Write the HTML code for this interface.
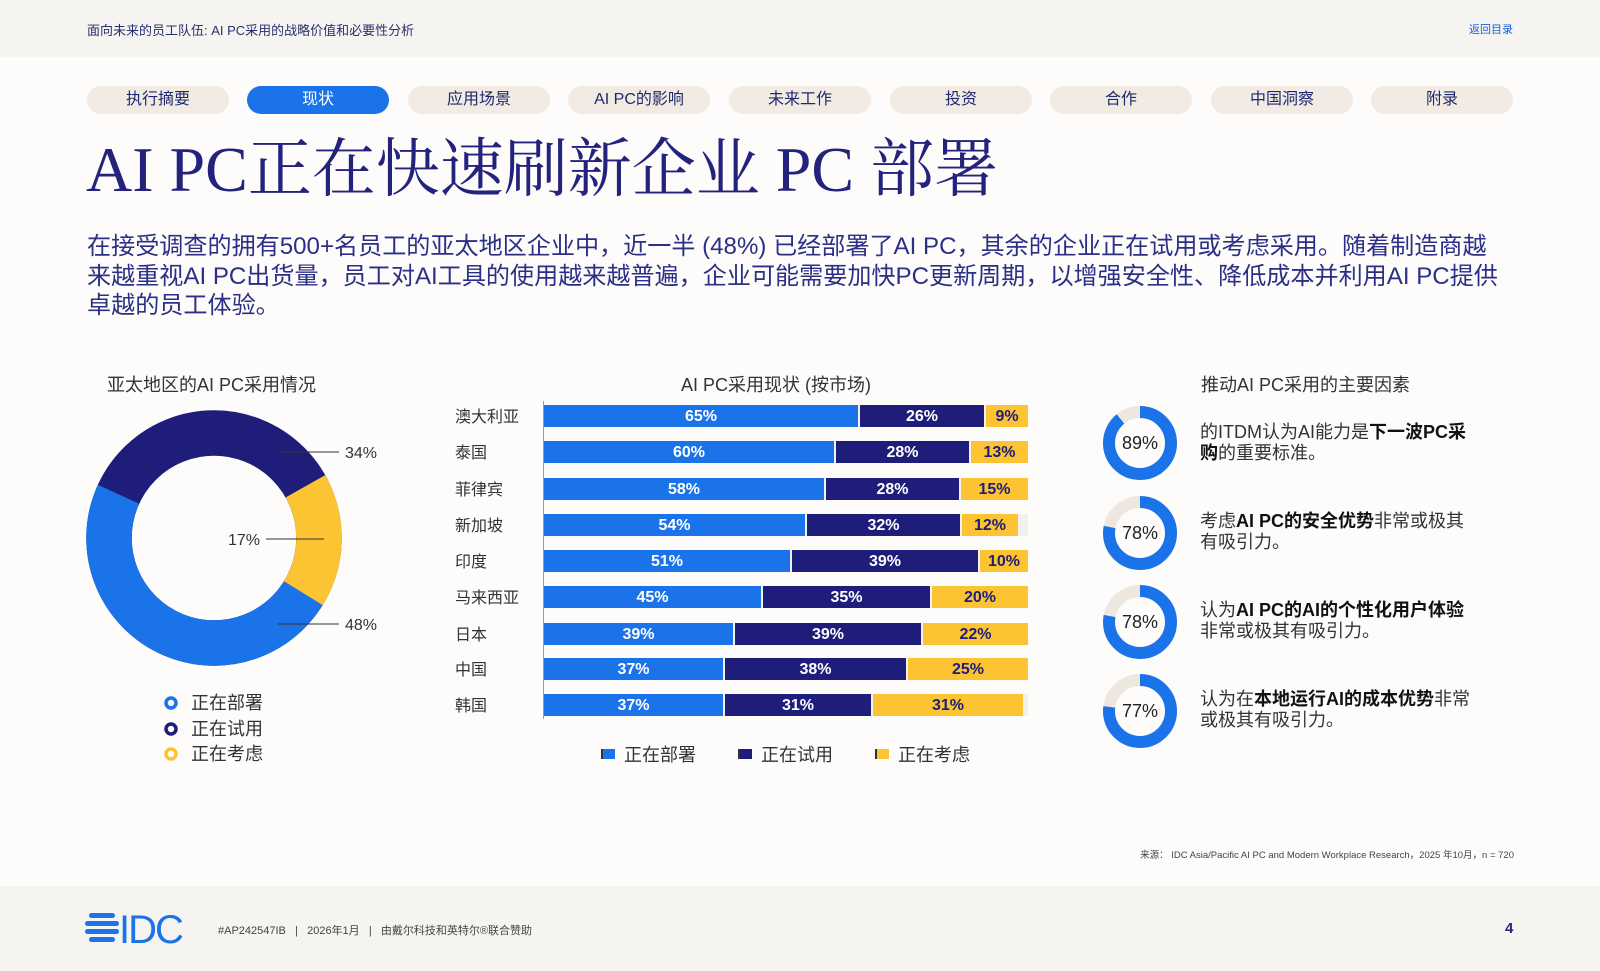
<!DOCTYPE html>
<html><head><meta charset="utf-8"><style>
*{margin:0;padding:0;box-sizing:border-box}
body{width:1600px;height:971px;background:#fdfcfa;position:relative;overflow:hidden;font-family:"Liberation Sans","Noto Sans CJK SC",sans-serif;color:#333}
.a{position:absolute;white-space:nowrap}
.pill{position:absolute;top:86px;width:142px;height:28px;border-radius:14px;background:#f2ebe3;color:#1e2a6e;font-size:16px;text-align:center;line-height:28px}
.pill.on{background:#1a73e8;color:#fff}
.row{position:absolute;left:544px;width:484px;height:22px;background:#f3f1ee}
.seg{position:absolute;top:0;height:22px;color:#fff;font-weight:bold;font-size:16px;text-align:center;line-height:24px}
.b{background:#1a73e8}.n{background:#1e1e7a}.y{background:#fcc433;color:#1e1e7a}
.lab{position:absolute;left:455px;font-size:16px;color:#333}
.rt{position:absolute;left:1200px;font-size:18px;line-height:21px;color:#333}
.rt b{color:#111}
</style></head><body>
<div class="a" style="left:0;top:0;width:1600px;height:57px;background:#f6f4f1"></div>
<div class="a" style="left:87px;top:20px;font-size:13px;color:#2a2f6e">面向未来的员工队伍: AI PC采用的战略价值和必要性分析</div>
<div class="a" style="left:1469px;top:21px;font-size:11px;color:#1a5fd8">返回目录</div>

<div class="pill" style="left:87px">执行摘要</div>
<div class="pill on" style="left:247px">现状</div>
<div class="pill" style="left:408px">应用场景</div>
<div class="pill" style="left:568px">AI PC的影响</div>
<div class="pill" style="left:729px">未来工作</div>
<div class="pill" style="left:890px">投资</div>
<div class="pill" style="left:1050px">合作</div>
<div class="pill" style="left:1211px">中国洞察</div>
<div class="pill" style="left:1371px">附录</div>

<div class="a" style="left:86px;top:132px;font-size:64px;font-family:'Liberation Serif','Noto Serif CJK SC',serif;color:#23237e;line-height:76px">AI PC正在快速刷新企业 PC 部署</div>

<div class="a" style="left:87px;top:232px;font-size:24.1px;line-height:29.5px;color:#2b2f86">在接受调查的拥有500+名员工的亚太地区企业中，近一半 (48%) 已经部署了AI PC，其余的企业正在试用或考虑采用。随着制造商越<br>来越重视AI PC出货量，员工对AI工具的使用越来越普遍，企业可能需要加快PC更新周期，以增强安全性、降低成本并利用AI PC提供<br>卓越的员工体验。</div>

<!-- left donut -->
<div class="a" style="left:107px;top:371px;font-size:18px;color:#333">亚太地区的AI PC采用情况</div>
<svg class="a" style="left:0;top:0" width="420" height="800">
<g transform="rotate(-90 214 538)">
<circle cx="214" cy="538" r="105" fill="none" stroke="#1e1e7a" stroke-width="45.5"/>
<circle cx="214" cy="538" r="105" fill="none" stroke="#1a73e8" stroke-width="45.5" stroke-dasharray="316.7 1000" stroke-dashoffset="-223"/>
<circle cx="214" cy="538" r="105" fill="none" stroke="#fcc433" stroke-width="45.5" stroke-dasharray="112.2 1000" stroke-dashoffset="-110.8"/>
</g>
<g stroke="#333" stroke-width="1">
<line x1="278" y1="452" x2="339" y2="452"/><line x1="266" y1="539" x2="324" y2="539"/><line x1="278" y1="624" x2="339" y2="624"/></g>
<g font-size="16" fill="#333"><text x="345" y="458">34%</text><text x="228" y="545">17%</text><text x="345" y="630">48%</text></g>
<g fill="none" stroke-width="3.5"><circle cx="171" cy="703" r="5" stroke="#1a73e8"/><circle cx="171" cy="729" r="5" stroke="#1e1e7a"/><circle cx="171" cy="754" r="5" stroke="#fcc433"/></g>
<g font-size="18" fill="#333"><text x="191" y="709">正在部署</text><text x="191" y="735">正在试用</text><text x="191" y="760">正在考虑</text></g>
</svg>

<!-- bar chart -->
<div class="a" style="left:681px;top:371px;font-size:18px;color:#333">AI PC采用现状 (按市场)</div>
<div class="a" style="left:543px;top:401px;width:1px;height:318px;background:#999"></div>
<div class="lab" style="top:403px">澳大利亚</div>
<div class="row" style="top:405px"><div class="seg b" style="left:0;width:314px">65%</div><div class="seg n" style="left:316px;width:124px">26%</div><div class="seg y" style="left:442px;width:42px">9%</div></div>
<div class="lab" style="top:439px">泰国</div>
<div class="row" style="top:441px"><div class="seg b" style="left:0;width:290px">60%</div><div class="seg n" style="left:292px;width:133px">28%</div><div class="seg y" style="left:427px;width:57px">13%</div></div>
<div class="lab" style="top:476px">菲律宾</div>
<div class="row" style="top:478px"><div class="seg b" style="left:0;width:280px">58%</div><div class="seg n" style="left:282px;width:133px">28%</div><div class="seg y" style="left:417px;width:67px">15%</div></div>
<div class="lab" style="top:512px">新加坡</div>
<div class="row" style="top:514px"><div class="seg b" style="left:0;width:261px">54%</div><div class="seg n" style="left:263px;width:153px">32%</div><div class="seg y" style="left:418px;width:56px">12%</div></div>
<div class="lab" style="top:548px">印度</div>
<div class="row" style="top:550px"><div class="seg b" style="left:0;width:246px">51%</div><div class="seg n" style="left:248px;width:186px">39%</div><div class="seg y" style="left:436px;width:48px">10%</div></div>
<div class="lab" style="top:584px">马来西亚</div>
<div class="row" style="top:586px"><div class="seg b" style="left:0;width:217px">45%</div><div class="seg n" style="left:219px;width:167px">35%</div><div class="seg y" style="left:388px;width:96px">20%</div></div>
<div class="lab" style="top:621px">日本</div>
<div class="row" style="top:623px"><div class="seg b" style="left:0;width:189px">39%</div><div class="seg n" style="left:191px;width:186px">39%</div><div class="seg y" style="left:379px;width:105px">22%</div></div>
<div class="lab" style="top:656px">中国</div>
<div class="row" style="top:658px"><div class="seg b" style="left:0;width:179px">37%</div><div class="seg n" style="left:181px;width:181px">38%</div><div class="seg y" style="left:364px;width:120px">25%</div></div>
<div class="lab" style="top:692px">韩国</div>
<div class="row" style="top:694px"><div class="seg b" style="left:0;width:179px">37%</div><div class="seg n" style="left:181px;width:146px">31%</div><div class="seg y" style="left:329px;width:150px">31%</div></div>

<div class="a" style="left:601px;top:749px;width:14px;height:10px;background:#1a73e8;border-left:2px solid #333"></div>
<div class="a" style="left:624px;top:741px;font-size:18px">正在部署</div>
<div class="a" style="left:738px;top:749px;width:14px;height:10px;background:#1e1e7a;border-left:2px solid #333"></div>
<div class="a" style="left:761px;top:741px;font-size:18px">正在试用</div>
<div class="a" style="left:875px;top:749px;width:14px;height:10px;background:#fcc433;border-left:2px solid #333"></div>
<div class="a" style="left:898px;top:741px;font-size:18px">正在考虑</div>

<!-- right panel -->
<div class="a" style="left:1201px;top:371px;font-size:18px;color:#333">推动AI PC采用的主要因素</div>
<svg class="a" style="left:1090px;top:390px" width="100" height="370">
<g fill="none" stroke-width="12">
<circle cx="50" cy="53" r="31" stroke="#ede7e0"/><circle cx="50" cy="53" r="31" stroke="#1a73e8" stroke-dasharray="173.4 1000" transform="rotate(-90 50 53)"/>
<circle cx="50" cy="143" r="31" stroke="#ede7e0"/><circle cx="50" cy="143" r="31" stroke="#1a73e8" stroke-dasharray="151.9 1000" transform="rotate(-90 50 143)"/>
<circle cx="50" cy="232" r="31" stroke="#ede7e0"/><circle cx="50" cy="232" r="31" stroke="#1a73e8" stroke-dasharray="151.9 1000" transform="rotate(-90 50 232)"/>
<circle cx="50" cy="321" r="31" stroke="#ede7e0"/><circle cx="50" cy="321" r="31" stroke="#1a73e8" stroke-dasharray="150.0 1000" transform="rotate(-90 50 321)"/>
</g>
<g font-size="18" fill="#222" text-anchor="middle"><text x="50" y="59">89%</text><text x="50" y="149">78%</text><text x="50" y="238">78%</text><text x="50" y="327">77%</text></g>
</svg>
<div class="rt" style="top:422px">的ITDM认为AI能力是<b>下一波PC采</b><br><b>购</b>的重要标准。</div>
<div class="rt" style="top:511px">考虑<b>AI PC的安全优势</b>非常或极其<br>有吸引力。</div>
<div class="rt" style="top:600px">认为<b>AI PC的AI的个性化用户体验</b><br>非常或极其有吸引力。</div>
<div class="rt" style="top:689px">认为在<b>本地运行AI的成本优势</b>非常<br>或极其有吸引力。</div>

<div class="a" style="right:86px;top:847px;font-size:9.5px;color:#444">来源： IDC Asia/Pacific AI PC and Modern Workplace Research，2025 年10月，n = 720</div>

<!-- footer -->
<div class="a" style="left:0;top:886px;width:1600px;height:85px;background:#f6f4f1"></div>
<svg class="a" style="left:85px;top:910px" width="110" height="36">
<g fill="#1a73e8"><rect x="4" y="3" width="26" height="5" rx="2.5"/><rect x="0" y="11" width="34" height="5" rx="2.5"/><rect x="0" y="19" width="34" height="5" rx="2.5"/><rect x="4" y="27" width="26" height="5" rx="2.5"/></g>
<text x="34" y="33" font-size="40" fill="#1a73e8" font-family="Liberation Sans" letter-spacing="-2">IDC</text>
</svg>
<div class="a" style="left:218px;top:922px;font-size:11px;color:#444">#AP242547IB &nbsp; | &nbsp; 2026年1月 &nbsp; | &nbsp; 由戴尔科技和英特尔®联合赞助</div>
<div class="a" style="left:1505px;top:920px;font-size:15px;font-weight:bold;color:#23237e">4</div>
</body></html>
